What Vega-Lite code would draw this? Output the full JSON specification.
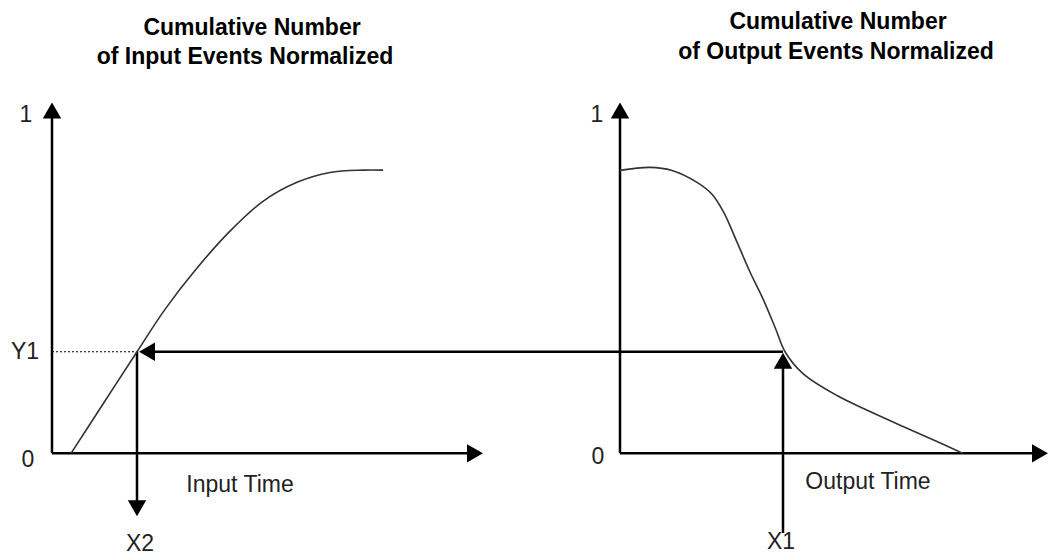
{
  "$schema": "https://vega.github.io/schema/vega-lite/v6.json",
  "width": 1049,
  "height": 557,
  "autosize": {"type": "fit", "contains": "padding"},
  "padding": 0,
  "background": "white",
  "config": {"view": {"stroke": null}},
  "datasets": {
    "curves": [
      {"series": "input", "t": 71, "v": 0},
      {"series": "input", "t": 104, "v": 0.15},
      {"series": "input", "t": 137, "v": 0.3},
      {"series": "input", "t": 165, "v": 0.425},
      {"series": "input", "t": 197, "v": 0.547},
      {"series": "input", "t": 230, "v": 0.656},
      {"series": "input", "t": 263, "v": 0.744},
      {"series": "input", "t": 297, "v": 0.8},
      {"series": "input", "t": 330, "v": 0.829},
      {"series": "input", "t": 363, "v": 0.836},
      {"series": "input", "t": 383, "v": 0.836},
      {"series": "output", "t": 620, "v": 0.8353},
      {"series": "output", "t": 650, "v": 0.8441},
      {"series": "output", "t": 672, "v": 0.835},
      {"series": "output", "t": 697, "v": 0.8},
      {"series": "output", "t": 712, "v": 0.765},
      {"series": "output", "t": 724, "v": 0.71},
      {"series": "output", "t": 737, "v": 0.6235},
      {"series": "output", "t": 750, "v": 0.5353},
      {"series": "output", "t": 763, "v": 0.4559},
      {"series": "output", "t": 776, "v": 0.365},
      {"series": "output", "t": 785, "v": 0.3},
      {"series": "output", "t": 803, "v": 0.2353},
      {"series": "output", "t": 837, "v": 0.1706},
      {"series": "output", "t": 870, "v": 0.1235},
      {"series": "output", "t": 903, "v": 0.0794},
      {"series": "output", "t": 937, "v": 0.0353},
      {"series": "output", "t": 963, "v": 0}
    ],
    "segments": [
      {"role": "axis", "t": 52, "t2": 52, "v": 0, "v2": 1.0},
      {"role": "axis", "t": 52, "t2": 474, "v": 0, "v2": 0},
      {"role": "axis", "t": 620, "t2": 620, "v": 0, "v2": 1.0},
      {"role": "axis", "t": 620, "t2": 1038, "v": 0, "v2": 0},
      {"role": "arrow", "t": 783, "t2": 145, "v": 0.3, "v2": 0.3},
      {"role": "arrow", "t": 137, "t2": 137, "v": 0.3, "v2": -0.15},
      {"role": "arrow", "t": 783, "t2": 783, "v": -0.235, "v2": 0.28},
      {"role": "guide", "t": 52, "t2": 137, "v": 0.3, "v2": 0.3}
    ],
    "heads": [
      {"t": 52, "v": 1.012, "dir": "up"},
      {"t": 620, "v": 1.012, "dir": "up"},
      {"t": 475, "v": 0, "dir": "right"},
      {"t": 1040, "v": 0, "dir": "right"},
      {"t": 137, "v": -0.1618, "dir": "down"},
      {"t": 147, "v": 0.3, "dir": "left"},
      {"t": 783, "v": 0.2735, "dir": "up"}
    ],
    "labels": [
      {"role": "tick", "text": "1", "t": 26, "v": 1.0},
      {"role": "tick", "text": "0", "t": 28, "v": -0.02},
      {"role": "tick", "text": "Y1", "t": 25, "v": 0.3},
      {"role": "tick", "text": "1", "t": 597, "v": 1.0},
      {"role": "tick", "text": "0", "t": 598, "v": -0.01},
      {"role": "tick", "text": "X2", "t": 140, "v": -0.268},
      {"role": "tick", "text": "X1", "t": 781, "v": -0.262},
      {"role": "tick", "text": "Input Time", "t": 240, "v": -0.094},
      {"role": "tick", "text": "Output Time", "t": 868, "v": -0.085},
      {"role": "title", "text": "Cumulative Number", "t": 252, "v": 1.2559},
      {"role": "title", "text": "of Input Events Normalized", "t": 245, "v": 1.1706},
      {"role": "title", "text": "Cumulative Number", "t": 838, "v": 1.2735},
      {"role": "title", "text": "of Output Events Normalized", "t": 836, "v": 1.1853}
    ]
  },
  "encoding": {
    "x": {"field": "t", "type": "quantitative", "axis": null,
          "scale": {"domain": [0, 1049], "nice": false, "zero": false}},
    "y": {"field": "v", "type": "quantitative", "axis": null,
          "scale": {"domain": [-0.3, 1.3382], "nice": false, "zero": false}}
  },
  "layer": [
    {
      "data": {"name": "segments"},
      "transform": [{"filter": "datum.role !== 'guide'"}],
      "mark": {"type": "rule", "color": "black", "strokeWidth": 2.5},
      "encoding": {
        "x2": {"field": "t2"},
        "y2": {"field": "v2"}
      }
    },
    {
      "data": {"name": "segments"},
      "transform": [{"filter": "datum.role === 'guide'"}],
      "mark": {"type": "rule", "color": "black", "strokeWidth": 1.2, "strokeDash": [2, 2]},
      "encoding": {
        "x2": {"field": "t2"},
        "y2": {"field": "v2"}
      }
    },
    {
      "data": {"name": "curves"},
      "mark": {"type": "line", "color": "#333333", "strokeWidth": 1.6, "interpolate": "catmull-rom"},
      "encoding": {
        "detail": {"field": "series"}
      }
    },
    {
      "data": {"name": "heads"},
      "mark": {"type": "point", "filled": true, "color": "black", "opacity": 1, "size": 340},
      "encoding": {
        "shape": {"field": "dir", "type": "nominal", "legend": null,
                  "scale": {"domain": ["up", "down", "left", "right"],
                            "range": ["triangle-up", "triangle-down", "triangle-left", "triangle-right"]}}
      }
    },
    {
      "data": {"name": "labels"},
      "transform": [{"filter": "datum.role === 'tick'"}],
      "mark": {"type": "text", "font": "Liberation Sans", "fontSize": 23, "color": "#222222", "baseline": "middle", "align": "center"},
      "encoding": {"text": {"field": "text"}}
    },
    {
      "data": {"name": "labels"},
      "transform": [{"filter": "datum.role === 'title'"}],
      "mark": {"type": "text", "font": "Liberation Sans", "fontSize": 23, "fontWeight": "bold", "color": "black", "baseline": "middle", "align": "center"},
      "encoding": {"text": {"field": "text"}}
    }
  ]
}
